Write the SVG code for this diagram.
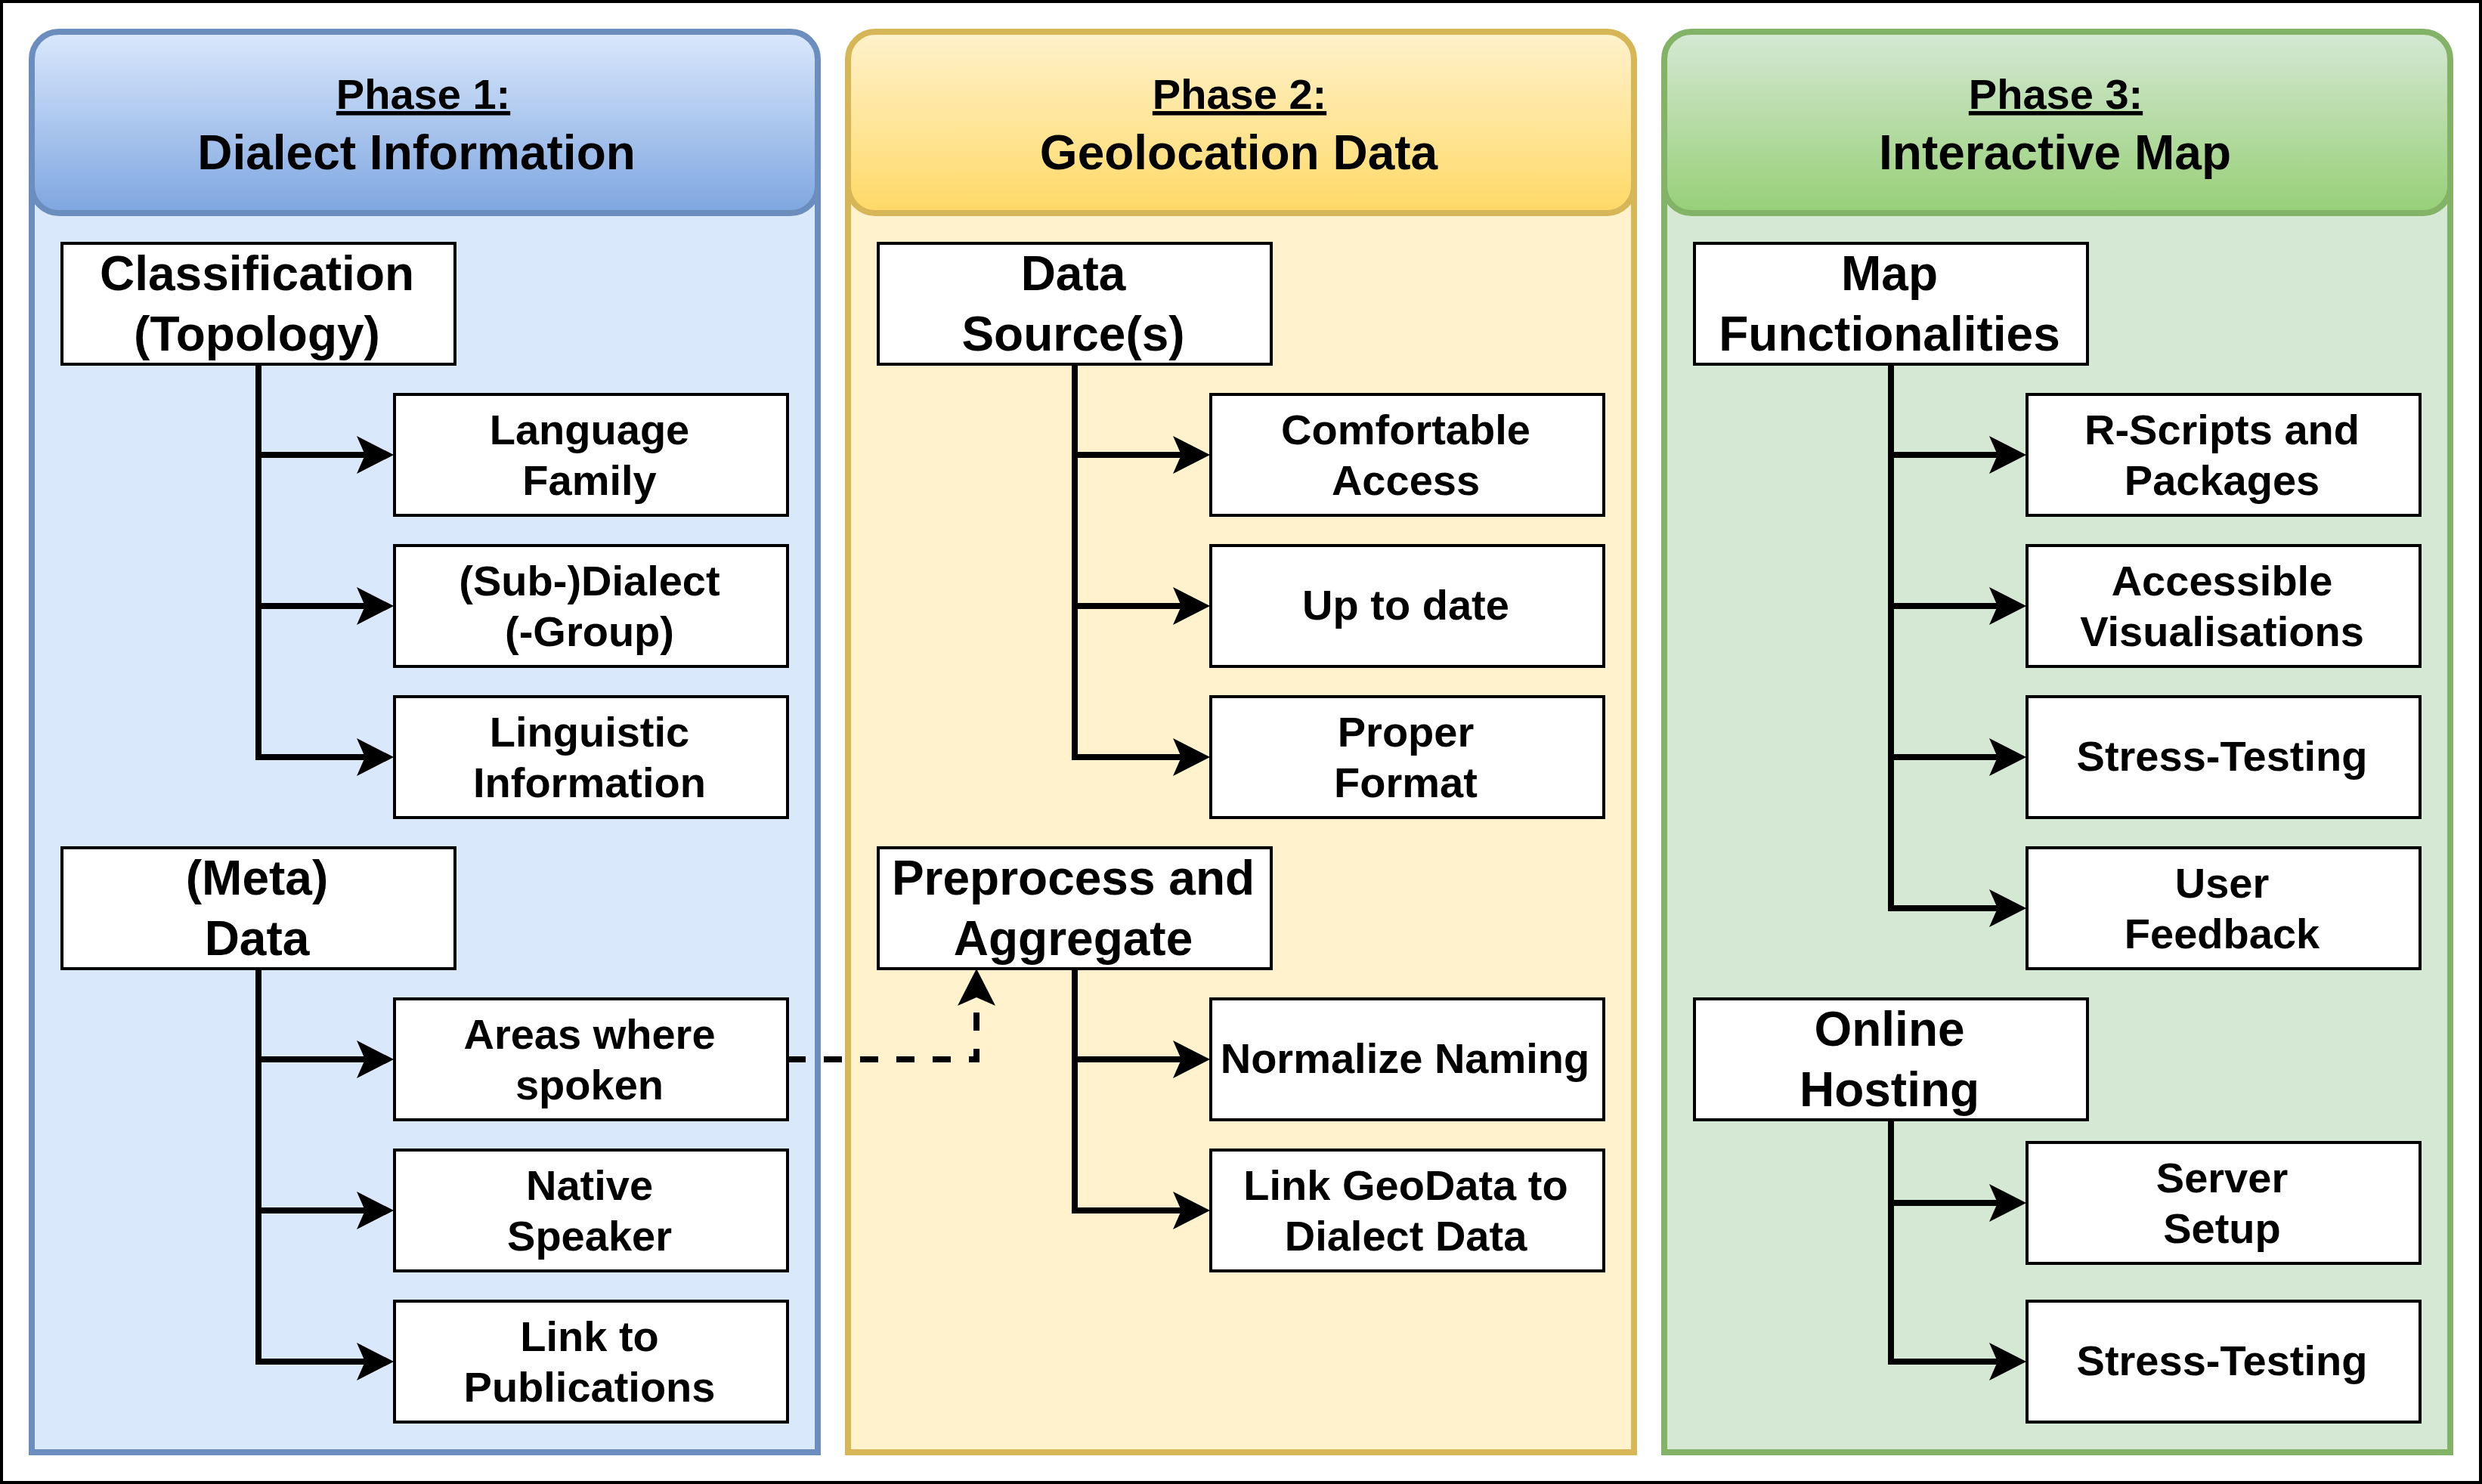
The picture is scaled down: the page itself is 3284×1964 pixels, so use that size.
<svg xmlns="http://www.w3.org/2000/svg" width="3284" height="1964" viewBox="0 0 3284 1964">
<defs>
<style>
.frame{fill:#fff;stroke:#000;stroke-width:8}
.box{fill:#fff;stroke:#000;stroke-width:4}
.tp{font-family:"Liberation Sans",Arial,sans-serif;font-weight:bold;font-size:64px;text-anchor:middle;fill:#000}
.tc{font-family:"Liberation Sans",Arial,sans-serif;font-weight:bold;font-size:56px;text-anchor:middle;fill:#000}
.ul{text-decoration:underline}
.edge{fill:none;stroke:#000;stroke-width:8;marker-end:url(#arr)}
.dash{stroke-dasharray:24 24}
.b1{fill:#dae8fc;stroke:#6c8ebf;stroke-width:8}
.b2{fill:#fff2cc;stroke:#d6b656;stroke-width:8}
.b3{fill:#d5e8d4;stroke:#82b366;stroke-width:8}
.h1{fill:url(#g1);stroke:#6c8ebf;stroke-width:8}
.h2{fill:url(#g2);stroke:#d6b656;stroke-width:8}
.h3{fill:url(#g3);stroke:#82b366;stroke-width:8}
</style>
<linearGradient id="g1" x1="0" y1="0" x2="0" y2="1"><stop offset="0" stop-color="#dae8fc"/><stop offset="1" stop-color="#7ea6e0"/></linearGradient>
<linearGradient id="g2" x1="0" y1="0" x2="0" y2="1"><stop offset="0" stop-color="#fff2cc"/><stop offset="1" stop-color="#ffd966"/></linearGradient>
<linearGradient id="g3" x1="0" y1="0" x2="0" y2="1"><stop offset="0" stop-color="#d5e8d4"/><stop offset="1" stop-color="#97d077"/></linearGradient>
<marker id="arr" markerUnits="userSpaceOnUse" viewBox="0 0 49 50" refX="11" refY="25" markerWidth="49" markerHeight="50" orient="auto">
<path d="M49,25 L0,0 L11,25 L0,50 Z" fill="#000"/>
</marker>
</defs>

<rect class="frame" x="0" y="0" width="3284" height="1964"/>

<!-- Phase panels -->
<g id="phase1">
<rect class="b1" x="42" y="150" width="1040" height="1772"/>
<rect class="h1" x="42" y="42" width="1040" height="240" rx="36" ry="36"/>
<text class="tc ul" x="560" y="144">Phase 1:</text>
<text class="tp" x="551" y="224">Dialect Information</text>
</g>
<g id="phase2">
<rect class="b2" x="1122" y="150" width="1040" height="1772"/>
<rect class="h2" x="1122" y="42" width="1040" height="240" rx="36" ry="36"/>
<text class="tc ul" x="1640" y="144">Phase 2:</text>
<text class="tp" x="1639" y="224">Geolocation Data</text>
</g>
<g id="phase3">
<rect class="b3" x="2202" y="150" width="1040" height="1772"/>
<rect class="h3" x="2202" y="42" width="1040" height="240" rx="36" ry="36"/>
<text class="tc ul" x="2720" y="144">Phase 3:</text>
<text class="tp" x="2719" y="224">Interactive Map</text>
</g>

<!-- Connectors -->
<g id="connectors">
<path class="edge" d="M342 482 V602 H483"/>
<path class="edge" d="M342 482 V802 H483"/>
<path class="edge" d="M342 482 V1002 H483"/>
<path class="edge" d="M342 1282 V1402 H483"/>
<path class="edge" d="M342 1282 V1602 H483"/>
<path class="edge" d="M342 1282 V1802 H483"/>
<path class="edge" d="M1422 482 V602 H1563"/>
<path class="edge" d="M1422 482 V802 H1563"/>
<path class="edge" d="M1422 482 V1002 H1563"/>
<path class="edge" d="M1422 1282 V1402 H1563"/>
<path class="edge" d="M1422 1282 V1602 H1563"/>
<path class="edge" d="M2502 482 V602 H2643"/>
<path class="edge" d="M2502 482 V802 H2643"/>
<path class="edge" d="M2502 482 V1002 H2643"/>
<path class="edge" d="M2502 482 V1202 H2643"/>
<path class="edge" d="M2502 1482 V1592 H2643"/>
<path class="edge" d="M2502 1482 V1802 H2643"/>
<path class="edge dash" d="M1042 1402 H1292 V1320"/>
</g>

<!-- Phase 1 nodes -->
<g id="classification"><rect class="box" x="82" y="322" width="520" height="160"/>
<text class="tp"><tspan x="340" y="384">Classification</tspan><tspan x="340" y="464">(Topology)</tspan></text></g>
<g id="language-family"><rect class="box" x="522" y="522" width="520" height="160"/>
<text class="tc"><tspan x="780" y="588">Language</tspan><tspan x="780" y="655">Family</tspan></text></g>
<g id="sub-dialect"><rect class="box" x="522" y="722" width="520" height="160"/>
<text class="tc"><tspan x="780" y="788">(Sub-)Dialect</tspan><tspan x="780" y="855">(-Group)</tspan></text></g>
<g id="linguistic-info"><rect class="box" x="522" y="922" width="520" height="160"/>
<text class="tc"><tspan x="780" y="988">Linguistic</tspan><tspan x="780" y="1055">Information</tspan></text></g>
<g id="meta-data"><rect class="box" x="82" y="1122" width="520" height="160"/>
<text class="tp"><tspan x="340" y="1184">(Meta)</tspan><tspan x="340" y="1264">Data</tspan></text></g>
<g id="areas-spoken"><rect class="box" x="522" y="1322" width="520" height="160"/>
<text class="tc"><tspan x="780" y="1388">Areas where</tspan><tspan x="780" y="1455">spoken</tspan></text></g>
<g id="native-speaker"><rect class="box" x="522" y="1522" width="520" height="160"/>
<text class="tc"><tspan x="780" y="1588">Native</tspan><tspan x="780" y="1655">Speaker</tspan></text></g>
<g id="link-publications"><rect class="box" x="522" y="1722" width="520" height="160"/>
<text class="tc"><tspan x="780" y="1788">Link to</tspan><tspan x="780" y="1855">Publications</tspan></text></g>

<!-- Phase 2 nodes -->
<g id="data-sources"><rect class="box" x="1162" y="322" width="520" height="160"/>
<text class="tp"><tspan x="1420" y="384">Data</tspan><tspan x="1420" y="464">Source(s)</tspan></text></g>
<g id="comfortable-access"><rect class="box" x="1602" y="522" width="520" height="160"/>
<text class="tc"><tspan x="1860" y="588">Comfortable</tspan><tspan x="1860" y="655">Access</tspan></text></g>
<g id="up-to-date"><rect class="box" x="1602" y="722" width="520" height="160"/>
<text class="tc" x="1860" y="820">Up to date</text></g>
<g id="proper-format"><rect class="box" x="1602" y="922" width="520" height="160"/>
<text class="tc"><tspan x="1860" y="988">Proper</tspan><tspan x="1860" y="1055">Format</tspan></text></g>
<g id="preprocess"><rect class="box" x="1162" y="1122" width="520" height="160"/>
<text class="tp"><tspan x="1420" y="1184">Preprocess and</tspan><tspan x="1420" y="1264">Aggregate</tspan></text></g>
<g id="normalize-naming"><rect class="box" x="1602" y="1322" width="520" height="160"/>
<text class="tc" x="1859" y="1420">Normalize Naming</text></g>
<g id="link-geodata"><rect class="box" x="1602" y="1522" width="520" height="160"/>
<text class="tc"><tspan x="1860" y="1588">Link GeoData to</tspan><tspan x="1860" y="1655">Dialect Data</tspan></text></g>

<!-- Phase 3 nodes -->
<g id="map-functionalities"><rect class="box" x="2242" y="322" width="520" height="160"/>
<text class="tp"><tspan x="2500" y="384">Map</tspan><tspan x="2500" y="464">Functionalities</tspan></text></g>
<g id="r-scripts"><rect class="box" x="2682" y="522" width="520" height="160"/>
<text class="tc"><tspan x="2940" y="588">R-Scripts and</tspan><tspan x="2940" y="655">Packages</tspan></text></g>
<g id="accessible-vis"><rect class="box" x="2682" y="722" width="520" height="160"/>
<text class="tc"><tspan x="2940" y="788">Accessible</tspan><tspan x="2940" y="855">Visualisations</tspan></text></g>
<g id="stress-testing-1"><rect class="box" x="2682" y="922" width="520" height="160"/>
<text class="tc" x="2940" y="1020">Stress-Testing</text></g>
<g id="user-feedback"><rect class="box" x="2682" y="1122" width="520" height="160"/>
<text class="tc"><tspan x="2940" y="1188">User</tspan><tspan x="2940" y="1255">Feedback</tspan></text></g>
<g id="online-hosting"><rect class="box" x="2242" y="1322" width="520" height="160"/>
<text class="tp"><tspan x="2500" y="1384">Online</tspan><tspan x="2500" y="1464">Hosting</tspan></text></g>
<g id="server-setup"><rect class="box" x="2682" y="1512" width="520" height="160"/>
<text class="tc"><tspan x="2940" y="1578">Server</tspan><tspan x="2940" y="1645">Setup</tspan></text></g>
<g id="stress-testing-2"><rect class="box" x="2682" y="1722" width="520" height="160"/>
<text class="tc" x="2940" y="1820">Stress-Testing</text></g>
</svg>
